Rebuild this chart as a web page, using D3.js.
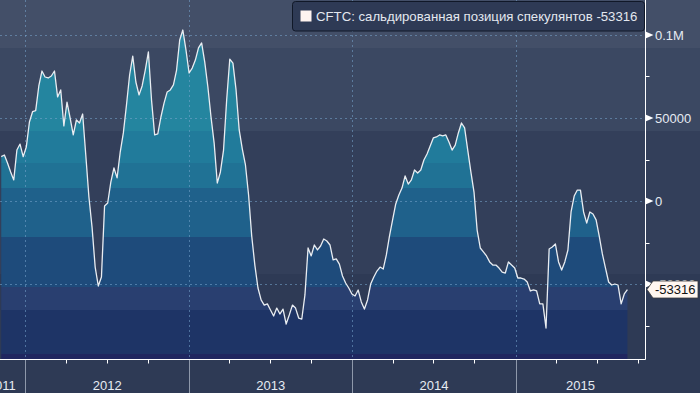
<!DOCTYPE html>
<html>
<head>
<meta charset="utf-8">
<script src="https://cdn.jsdelivr.net/npm/d3@7"></script>
<style>
  body { margin: 0; background: #2e3a55; }
  svg { display: block; }
  text { font-family: "Liberation Sans", Arial, sans-serif; }
</style>
</head>
<body>
<svg id="chart"></svg>
<script>
/* Data */

// weekly CFTC reports, first one on 8 Nov 2011
var startDate = new Date(2011, 10, 8);
var values = [
  26700, 27700, 22900, 17500, 12700, 30700, 34300, 26700, 32500, 47600,
  53800, 54400, 69300, 78300, 74700, 74100, 75300, 78300, 62700, 66900,
  45200, 59600, 50000, 39800, 48800, 47000, 52400, 27700, 2400, -15700,
  -39800, -51200, -45800, -3000, -1200, 11400, 19900, 13900, 29500, 41000,
  57800, 75900, 87300, 71700, 63900, 69300, 78900, 89800, 60800, 39800,
  40400, 50600, 59000, 65700, 66900, 69900, 78900, 97000, 103000, 91000,
  77100, 80100, 84900, 92200, 95200, 83700, 68700, 50600, 34900, 10800,
  17500, 30700, 60800, 85500, 83100, 66900, 42800, 31300, 21700, 3600,
  -21100, -38600, -52400, -59600, -62700, -62000, -65700, -69300, -64500, -68100,
  -65100, -74100, -68700, -62700, -64500, -70500, -71100, -56600, -28300, -33100,
  -26500, -29500, -27100, -22900, -24100, -26500, -35500, -34900, -38000, -45200,
  -49400, -52400, -56000, -57200, -53600, -60800, -65100, -59600, -50000, -45800,
  -42200, -39800, -41000, -32500, -21100, -11400, -1800, 3600, 7800, 15100,
  10200, 12700, 18700, 16900, 18700, 24700, 28300, 33100, 38000, 38600,
  39800, 39200, 39800, 35500, 30700, 33700, 41000, 47000, 44000, 30700,
  17500, 5400, -17500, -28300, -30700, -33100, -36700, -38600, -38600, -40400,
  -42800, -43400, -36700, -38600, -40400, -46400, -46400, -47000, -48800, -54200,
  -53600, -54200, -62000, -62000, -76500, -28900, -27700, -25900, -36700, -41600,
  -36700, -29500, -6600, 3000, 6600, 6600, -6600, -13300, -6600, -7800,
  -11400, -21100, -31900, -40400, -48800, -50600, -50000, -50600, -62000, -56000,
  -53316
];
var yTicks = [100000, 50000, 0, -50000];
var yTickLabels = ["0.1M", "50000", "0", "-50000"];
var years = [2011, 2012, 2013, 2014, 2015];
var legendText = "CFTC: сальдированная позиция спекулянтов -53316";
var lastLabel = "-53316";

/* Layout */
var width = 700, height = 393;
var plotRight = 645.5, plotBottom = 359.5;

// background bands [top, bottom, color]
var bgBands = [
  [0, 48, "#434f68"],
  [48, 131, "#3b4862"],
  [131, 274, "#333f5a"],
  [274, 393, "#2e3a55"]
];
// stepped fill under the line
var fillBands = [
  [0, 48, "#2a8ba7"],
  [48, 131, "#24859f"],
  [131, 163, "#217b9b"],
  [163, 188, "#207295"],
  [188, 237, "#1f618b"],
  [237, 287, "#1e4b7b"],
  [287, 310, "#293f70"],
  [310, 354, "#1e3466"],
  [354, 360, "#20265f"]
];

var data = values.map(function(v, i){
  return {date: d3.timeDay.offset(startDate, 7 * i), value: v};
});

var x = d3.scaleTime()
  .domain([new Date(2012, 0, 1), new Date(2015, 0, 1)])
  .range([25.4, 515.6]);
var y = d3.scaleLinear()
  .domain([-50000, 100000])
  .range([284, 35]);

var svg = d3.select("#chart")
  .attr("width", width)
  .attr("height", height);

// Background
svg.append("g").selectAll("rect")
  .data(bgBands).enter().append("rect")
  .attr("x", 0).attr("width", width)
  .attr("y", function(d){ return d[0]; })
  .attr("height", function(d){ return d[1] - d[0]; })
  .attr("fill", function(d){ return d[2]; });

// Area, clipped onto the colour bands
var area = d3.area()
  .x(function(d){ return x(d.date); })
  .y0(plotBottom)
  .y1(function(d){ return y(d.value); });

svg.append("clipPath").attr("id", "areaClip")
  .append("path").datum(data).attr("d", area);

svg.append("g").attr("clip-path", "url(#areaClip)")
  .selectAll("rect").data(fillBands).enter().append("rect")
  .attr("x", 0).attr("width", plotRight)
  .attr("y", function(d){ return d[0]; })
  .attr("height", function(d){ return d[1] - d[0]; })
  .attr("fill", function(d){ return d[2]; });

// Grid
var grid = svg.append("g")
  .attr("stroke", "rgba(120,165,205,0.55)")
  .attr("stroke-width", 1)
  .attr("stroke-dasharray", "2,3");
grid.selectAll(".h").data(yTicks).enter().append("line")
  .attr("x1", 0).attr("x2", plotRight)
  .attr("y1", function(d){ return Math.round(y(d)) + 0.5; })
  .attr("y2", function(d){ return Math.round(y(d)) + 0.5; });
grid.selectAll(".v").data(years.slice(1)).enter().append("line")
  .attr("y1", 0).attr("y2", plotBottom)
  .attr("x1", function(d){ return Math.round(x(new Date(d, 0, 1))) + 0.5; })
  .attr("x2", function(d){ return Math.round(x(new Date(d, 0, 1))) + 0.5; });

// Line
var line = d3.line()
  .x(function(d){ return x(d.date); })
  .y(function(d){ return y(d.value); });
svg.append("path").datum(data)
  .attr("d", line)
  .attr("fill", "none")
  .attr("stroke", "#e9edf2")
  .attr("stroke-width", 1.3)
  .attr("stroke-linejoin", "round");

// Bottom axis
var xAxis = svg.append("g");
xAxis.selectAll(".sep").data(years.slice(1)).enter().append("line")
  .attr("x1", function(d){ return Math.round(x(new Date(d, 0, 1))) + 0.5; })
  .attr("x2", function(d){ return Math.round(x(new Date(d, 0, 1))) + 0.5; })
  .attr("y1", plotBottom).attr("y2", height)
  .attr("stroke", "#8e98aa");
var quarters = d3.timeMonth.every(3).range(new Date(2011, 11, 1), new Date(2015, 10, 1))
  .filter(function(d){ return d.getMonth() !== 0; });
xAxis.selectAll(".q").data(quarters).enter().append("line")
  .attr("x1", function(d){ return Math.round(x(d)) + 0.5; })
  .attr("x2", function(d){ return Math.round(x(d)) + 0.5; })
  .attr("y1", plotBottom).attr("y2", plotBottom + 4)
  .attr("stroke", "#ffffff");
xAxis.append("line")
  .attr("x1", 0).attr("x2", plotRight)
  .attr("y1", plotBottom).attr("y2", plotBottom)
  .attr("stroke", "#ffffff");
xAxis.selectAll("text").data(years).enter().append("text")
  .attr("x", function(d){
    var a = Math.max(x(new Date(d, 0, 1)), -22);
    var b = Math.min(x(new Date(d + 1, 0, 1)), plotRight);
    return (a + b) / 2;
  })
  .attr("y", 390)
  .attr("text-anchor", "middle")
  .attr("font-size", 13)
  .attr("fill", "#e6ebf2")
  .text(function(d){ return d; });

// Right axis
var yAxis = svg.append("g");
yAxis.append("line")
  .attr("x1", plotRight).attr("x2", plotRight)
  .attr("y1", 0).attr("y2", plotBottom)
  .attr("stroke", "#ffffff");
var minor = [75000, 25000, -25000, -75000];
yAxis.selectAll(".m").data(minor).enter().append("line")
  .attr("x1", plotRight).attr("x2", plotRight + 4)
  .attr("y1", function(d){ return Math.round(y(d)) + 0.5; })
  .attr("y2", function(d){ return Math.round(y(d)) + 0.5; })
  .attr("stroke", "#ffffff");
yAxis.selectAll("path").data(yTicks).enter().append("path")
  .attr("d", function(d){
    var t = y(d);
    return "M" + plotRight + "," + (t - 3.5) + "L" + (plotRight + 8) + "," + t + "L" + plotRight + "," + (t + 3.5) + "Z";
  })
  .attr("fill", "#ffffff");
yAxis.selectAll("text").data(yTicks).enter().append("text")
  .attr("x", 655)
  .attr("y", function(d){ return y(d); })
  .attr("dy", "0.36em")
  .attr("font-size", 13)
  .attr("fill", "#e6ebf2")
  .text(function(d, i){ return yTickLabels[i]; });

// Last value tag
var last = data[data.length - 1];
var ly = y(last.value);
svg.append("path")
  .attr("d", "M647," + ly + "L653," + (ly - 8.5) + "L698," + (ly - 8.5) + "L698," + (ly + 8.5) + "L653," + (ly + 8.5) + "Z")
  .attr("fill", "#fff6f0")
  .attr("stroke", "#3a3a3a")
  .attr("stroke-width", 0.8);
svg.append("text")
  .attr("x", 655).attr("y", ly)
  .attr("dy", "0.36em")
  .attr("font-size", 13)
  .attr("fill", "#111111")
  .text(lastLabel);

// Legend
var legend = svg.append("g");
legend.append("rect")
  .attr("x", 292.5).attr("y", 1.5)
  .attr("width", 352).attr("height", 29.5)
  .attr("rx", 3)
  .attr("fill", "#2e3a55")
  .attr("stroke", "#101828");
legend.append("rect")
  .attr("x", 300.5).attr("y", 10.5)
  .attr("width", 11).attr("height", 11)
  .attr("fill", "#fff4f0");
legend.append("text")
  .attr("x", 316).attr("y", 21)
  .attr("font-size", 13.2)
  .attr("fill", "#e3e8ef")
  .text(legendText);
</script>
</body>
</html>
